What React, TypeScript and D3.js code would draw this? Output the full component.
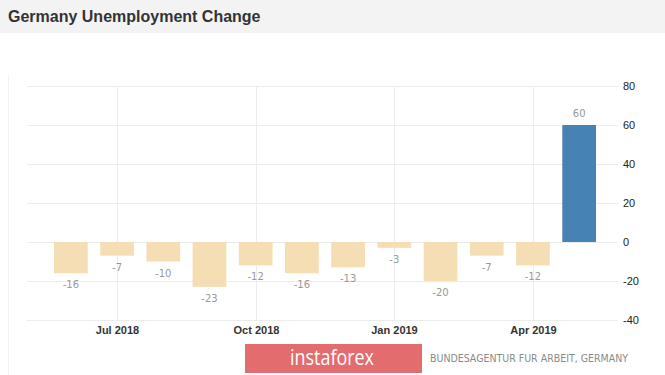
import React from 'react';
import * as d3 from 'd3';

// monthly change, thousands
const months = ['Jun 2018', 'Jul 2018', 'Aug 2018', 'Sep 2018', 'Oct 2018', 'Nov 2018', 'Dec 2018', 'Jan 2019', 'Feb 2019', 'Mar 2019', 'Apr 2019', 'May 2019'];
const values = [-16, -7, -10, -23, -12, -16, -13, -3, -20, -7, -12, 60];
const xTickLabels = ['Jul 2018', 'Oct 2018', 'Jan 2019', 'Apr 2019'];
const yTicks = [80, 60, 40, 20, 0, -20, -40];

const W = 665;
const H = 375;

export default function App() {
  const x = d3.scaleBand<string>().domain(months).range([41.5, 608.5]).padding(0.27);
  const y = d3.scaleLinear().domain([-40, 80]).range([320, 86]);
  const gridLeft = 27;
  const gridRight = 618;

  return (
    <svg width={W} height={H} style={{position: 'absolute', left: 0, top: 0}}>
      <rect x={0} y={0} width={W} height={H} fill="#ffffff" />
      {/* header */}
      <rect x={0} y={0} width={W} height={33} fill="#f3f3f3" />
      <text x={8} y={22} fontFamily="Liberation Sans, Arial, sans-serif" fontWeight="bold" fontSize={16} fill="#333">
        Germany Unemployment Change
      </text>
      {/* faint left frame */}
      <line x1={8.5} x2={8.5} y1={75} y2={H} stroke="#f2f2f2" />

      {/* horizontal grid + y axis labels */}
      {yTicks.map(t => (
        <g key={t}>
          <line x1={gridLeft} x2={gridRight} y1={Math.round(y(t)) + 0.5} y2={Math.round(y(t)) + 0.5} stroke="#ececec" />
          <text x={623} y={y(t) + 4} fontFamily="Liberation Sans, Arial, sans-serif" fontSize={11} fill="#222">
            {t}
          </text>
        </g>
      ))}

      {/* vertical grid + x labels */}
      {xTickLabels.map(m => {
        const cx = Math.round(x(m)! + x.bandwidth() / 2) + 0.5;
        return (
          <g key={m}>
            <line x1={cx} x2={cx} y1={y(80)} y2={y(-40)} stroke="#ececec" />
            <text x={cx} y={334} textAnchor="middle" fontFamily="Liberation Sans, Arial, sans-serif" fontSize={11} fontWeight="bold" fill="#333">
              {m}
            </text>
          </g>
        );
      })}

      {/* bars */}
      {months.map((m, i) => {
        const v = values[i];
        const top = y(Math.max(0, v));
        const h = Math.abs(y(v) - y(0));
        return (
          <rect key={m} x={x(m)} y={top} width={x.bandwidth()} height={h} fill={v >= 0 ? '#4682b4' : '#f5deb3'} />
        );
      })}

      {/* value labels */}
      {months.map((m, i) => {
        const v = values[i];
        const cx = x(m)! + x.bandwidth() / 2;
        const ly = v >= 0 ? y(v) - 8 : y(v) + 15;
        return (
          <text key={m} x={cx} y={ly} textAnchor="middle" fontFamily="DejaVu Sans, Verdana, sans-serif" fontSize={10} fill="#999">
            {v}
          </text>
        );
      })}

      {/* watermark / source */}
      <rect x={245} y={344} width={177} height={29} fill="#e36c6e" />
      <text x={290} y={365} fontFamily="Open Sans, sans-serif" fontSize={22} fill="#fff" textLength={84} lengthAdjust="spacingAndGlyphs">
        instaforex
      </text>
      <text x={430} y={362} fontFamily="DejaVu Sans, Verdana, sans-serif" fontSize={10} fill="#8a8a8a" textLength={198} lengthAdjust="spacingAndGlyphs">
        BUNDESAGENTUR FUR ARBEIT, GERMANY
      </text>
    </svg>
  );
}
